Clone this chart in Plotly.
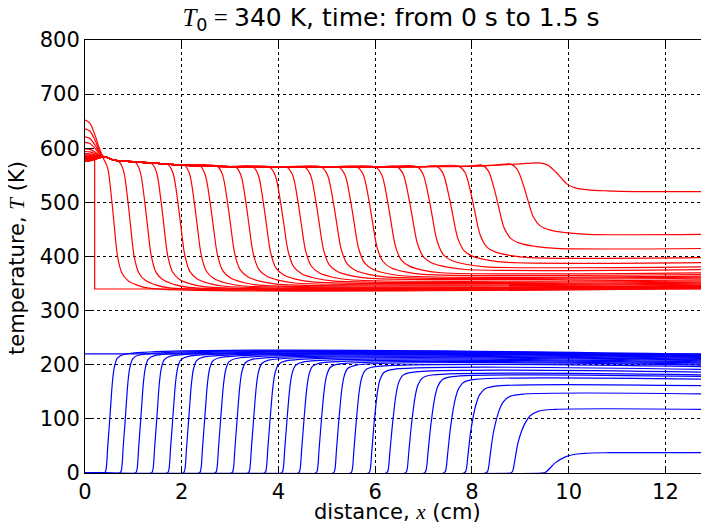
import numpy as np
import plotly.graph_objects as go

# ---------------- data ----------------
X_END = 13.0

# red family (temperature profiles)
RED_INIT_LEVEL = 580.0       # t = 0 profile, hot zone
RED_INIT_EDGE = 0.2          # cm, edge of hot zone at t = 0
T_AMBIENT = 340.0

RED_FRONT = [0.60, 0.94, 1.29, 1.63, 1.98, 2.32, 2.65, 3.01, 3.39, 3.75, 4.11, 4.47,
             4.84, 5.20, 5.56, 5.94, 6.32, 6.77, 7.18, 7.60, 8.06, 8.55, 9.15, 9.83]
RED_LEFT = [652, 636, 621, 611, 599, 594, 590, 588, 586, 585, 584, 583,
            582, 581, 580, 580, 579, 579, 578, 578, 577, 577, 576, 576]
RED_TOP = [582, 575, 574, 572, 570, 569, 568, 567, 566, 566, 565, 565,
           565, 565, 565, 565, 565, 566, 566, 567, 567, 569, 571, 573]
RED_BOTTOM = [341, 342, 343, 344, 345, 346, 347, 349, 351, 353, 355, 357,
              360, 362, 364, 367, 370, 376, 381, 389, 398, 415, 441, 520]
RED_WIDTH = [0.8, 0.85, 0.9, 0.9, 0.95, 0.95, 1.0, 1.0, 1.0, 1.0, 1.05, 1.05,
             1.05, 1.1, 1.1, 1.1, 1.1, 1.15, 1.15, 1.2, 1.2, 1.25, 1.3, 1.6]

# common hot plateau (upper envelope) behind the fronts
ENV_X = [0.45, 0.6, 1.0, 1.5, 2.0, 3.0, 4.0, 5.0, 6.0, 7.0, 8.0, 8.5, 9.0, 9.4]
ENV_T = [583, 578, 575, 572, 569, 566, 565, 565, 565, 566, 567, 569, 571, 573]
ENV_AT_HUMP_END = 584.0
# hump near x = 0 (fraction of the excess above the plateau)
HUMP_X = [0.0, 0.1, 0.2, 0.28, 0.36]
HUMP_FRAC = [1.0, 0.92, 0.62, 0.30, 0.05]

# front shape of red profiles (offset in cm, fraction of drop)
RED_DX = [-0.28, -0.17, -0.06, 0.0, 0.09, 0.20, 0.36, 0.60, 0.95]
RED_FRAC = [1.0, 0.93, 0.68, 0.5, 0.25, 0.12, 0.06, 0.025, 0.0]

# blue family
BLUE_INIT_LEVEL = 220.0
BLUE_FRONT = [0.52, 0.84, 1.16, 1.49, 1.82, 2.15, 2.48, 2.81, 3.15, 3.49, 3.83, 4.18,
              4.53, 4.89, 5.25, 5.61, 5.98, 6.36, 6.75, 7.15, 7.56, 7.98, 8.44, 8.96, 9.72]
BLUE_PLATEAU = [219, 218, 217, 216, 215, 214, 213, 211.5, 210, 208.5, 207, 205,
                203, 201, 199, 196, 191, 186, 181, 178, 173, 161, 146, 117.5, 37.5]
BLUE_WL = [1.0] * 17 + [1.1, 1.1, 1.15, 1.2, 1.2, 1.3, 1.4, 2.3]
BLUE_WR = [1.0, 1.0, 1.0, 1.0, 1.05, 1.05, 1.05, 1.1, 1.1, 1.1, 1.15, 1.15,
           1.15, 1.2, 1.2, 1.25, 1.3, 1.4, 1.5, 1.6, 1.8, 2.0, 2.3, 2.7, 4.0]
BLUE_DX = [-0.12, -0.09, -0.05, 0.0, 0.05, 0.09, 0.15, 0.28]
BLUE_FRAC = [0.0, 0.02, 0.22, 0.5, 0.78, 0.9, 0.97, 1.0]

SERIF = "Liberation Serif"
TITLE = (f'<span style="font-family:{SERIF}"><i>T</i></span><sub>0</sub>'
         f'<span style="font-family:{SERIF}"> = </span>340 K, time: from 0 s to 1.5 s')
XLABEL = f'distance, <span style="font-family:{SERIF}"><i>x</i></span> (cm)'
YLABEL = f'temperature, <span style="font-family:{SERIF}"><i>T</i></span> (K)'
X_TICKS = [0, 2, 4, 6, 8, 10, 12]
Y_TICKS = [0, 100, 200, 300, 400, 500, 600, 700, 800]

RED = "#ff0000"
BLUE = "#0000ff"

fig = go.Figure()

# ---- red profiles ----
fig.add_trace(go.Scatter(
    x=[0.0, RED_INIT_EDGE, RED_INIT_EDGE, X_END],
    y=[RED_INIT_LEVEL, RED_INIT_LEVEL, T_AMBIENT, T_AMBIENT],
    mode="lines", line=dict(color=RED, width=1.2), hoverinfo="skip"))

for f, left, top, bot, w in zip(RED_FRONT, RED_LEFT, RED_TOP, RED_BOTTOM, RED_WIDTH):
    xs, ys = [], []
    start = f + RED_DX[0] * w
    for hx, hf in zip(HUMP_X, HUMP_FRAC):
        if hx < start - 0.03:
            xs.append(hx)
            ys.append(ENV_AT_HUMP_END + (left - ENV_AT_HUMP_END) * hf)
    for ex, et in zip(ENV_X, ENV_T):
        if ex < start - 0.05:
            xs.append(ex)
            ys.append(et)
    for dx, fr in zip(RED_DX, RED_FRAC):
        xs.append(f + dx * w)
        ys.append(bot + (top - bot) * fr)
    xs.append(X_END)
    ys.append(bot)
    fig.add_trace(go.Scatter(x=xs, y=ys, mode="lines",
                             line=dict(color=RED, width=1.2, shape="spline", smoothing=0.9),
                             hoverinfo="skip"))

# ---- blue profiles ----
fig.add_trace(go.Scatter(
    x=[0.0, X_END], y=[BLUE_INIT_LEVEL, BLUE_INIT_LEVEL],
    mode="lines", line=dict(color=BLUE, width=1.2), hoverinfo="skip"))

for f, p, wl, wr in zip(BLUE_FRONT, BLUE_PLATEAU, BLUE_WL, BLUE_WR):
    xs, ys = [0.0], [0.0]
    for dx, fr in zip(BLUE_DX, BLUE_FRAC):
        xs.append(f + dx * (wl if dx < 0 else wr))
        ys.append(p * fr)
    xs.append(X_END)
    ys.append(p)
    fig.add_trace(go.Scatter(x=xs, y=ys, mode="lines",
                             line=dict(color=BLUE, width=1.2, shape="spline", smoothing=0.9),
                             hoverinfo="skip"))

axis_common = dict(
    showline=True, linecolor="black", linewidth=1,
    ticks="inside", ticklen=6, tickcolor="black", tickwidth=1,
    showgrid=True, gridcolor="black", griddash="dot", gridwidth=1,
    zeroline=False, tickfont=dict(size=21, color="black"),
    automargin=False,
)

# the page body adds an 8 px offset, so the figure is 8 px smaller
W, H = 701, 517
ML, MT, MB = 77, 32, 52
PW, PH = W - ML, H - MT - MB

fig.update_layout(
    width=W, height=H,
    margin=dict(l=ML, r=0, t=MT, b=MB),
    plot_bgcolor="white", paper_bgcolor="white",
    showlegend=False,
    font=dict(family="DejaVu Sans", size=21, color="black"),
    title=dict(text=TITLE, x=(391 - 8 - ML) / PW, xref="paper", xanchor="center",
               y=1.0, yanchor="top", pad=dict(t=0, b=0), font=dict(size=25)),
    xaxis=dict(range=[0, 12.9], tickvals=X_TICKS, mirror="ticks", **axis_common),
    yaxis=dict(range=[0, 800], tickvals=Y_TICKS, mirror=False, **axis_common),
    annotations=[
        dict(text=XLABEL, xref="paper", yref="paper", x=(397 - 8 - ML) / PW, y=-39 / PH,
             xanchor="center", yanchor="middle", showarrow=False, font=dict(size=21)),
        dict(text=YLABEL, xref="paper", yref="paper", x=-(85 - 17) / PW, y=(473 - 258) / PH,
             xanchor="center", yanchor="middle", textangle=-90, showarrow=False,
             font=dict(size=21)),
    ],
)

fig.write_html("out.html")
